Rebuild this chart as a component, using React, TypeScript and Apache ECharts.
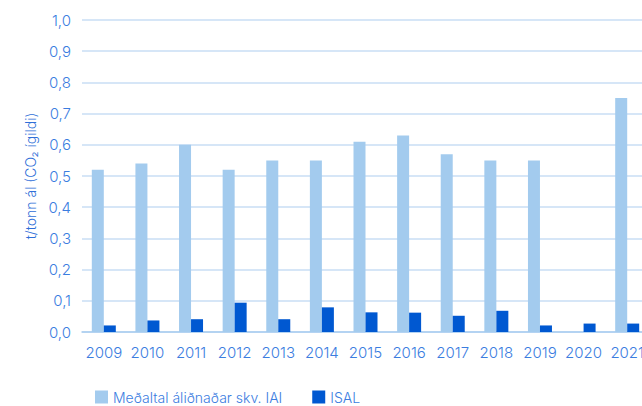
import React, { useEffect, useRef } from "react";
import * as echarts from "echarts";

const years = ["2009", "2010", "2011", "2012", "2013", "2014", "2015", "2016", "2017", "2018", "2019", "2020", "2021"];
const iaiValues: (number | null)[] = [0.52, 0.54, 0.6, 0.52, 0.55, 0.55, 0.61, 0.63, 0.57, 0.55, 0.55, null, 0.75];
const isalValues: number[] = [0.021, 0.037, 0.041, 0.094, 0.041, 0.079, 0.063, 0.062, 0.052, 0.068, 0.021, 0.027, 0.027];
const seriesNames = ["Meðaltal áliðnaðar skv. IAI", "ISAL"];
const axisTitle = "t/tonn ál (CO₂ ígildi)";

const TEXT = "#3b7ddf";
const FONT = "Inter, 'Noto Sans', sans-serif";

export default function App() {
  const ref = useRef<HTMLDivElement>(null);
  useEffect(() => {
    document.body.style.margin = "0";
    document.body.style.overflow = "hidden";
    const chart = echarts.init(ref.current!, undefined, { renderer: "svg" });
    chart.setOption({
      animation: false,
      textStyle: { fontFamily: FONT },
      grid: { left: 82, top: 20, bottom: 74, right: 10 },
      legend: {
        left: 90,
        top: 385,
        itemWidth: 13,
        itemHeight: 13,
        itemGap: 30,
        icon: "rect",
        textStyle: { color: TEXT, fontSize: 14, fontWeight: 300, fontFamily: FONT },
        data: seriesNames,
      },
      xAxis: {
        type: "category",
        data: years,
        axisTick: { show: false },
        axisLine: { lineStyle: { color: "#a9cdf0", width: 1.5 } },
        axisLabel: { color: TEXT, fontSize: 15, fontWeight: 300, margin: 13, interval: 0, fontFamily: FONT },
      },
      yAxis: {
        type: "value",
        min: 0,
        max: 1,
        interval: 0.1,
        name: axisTitle,
        nameLocation: "middle",
        nameGap: 44,
        nameTextStyle: { color: "#2f6fd8", fontSize: 14, fontWeight: 300, fontFamily: FONT },
        axisLine: { show: false },
        axisTick: { show: false },
        splitLine: { lineStyle: { color: "#c8def4", width: 1.5 } },
        axisLabel: {
          color: TEXT,
          fontSize: 15,
          fontWeight: 300,
          margin: 11,
          fontFamily: FONT,
          formatter: (v: number) => v.toFixed(1).replace(".", ","),
        },
      },
      series: [
        {
          name: seriesNames[0],
          type: "bar",
          data: iaiValues,
          barWidth: 12,
          barGap: "0%",
          itemStyle: { color: "#a3cbee" },
        },
        {
          name: seriesNames[1],
          type: "bar",
          data: isalValues,
          barWidth: 12,
          barGap: "0%",
          itemStyle: { color: "#0058d1" },
        },
      ],
    });
    return () => chart.dispose();
  }, []);
  return (
    <div style={{ width: 642, height: 406, overflow: "hidden" }}>
      <div ref={ref} style={{ width: 659, height: 406 }} />
    </div>
  );
}
